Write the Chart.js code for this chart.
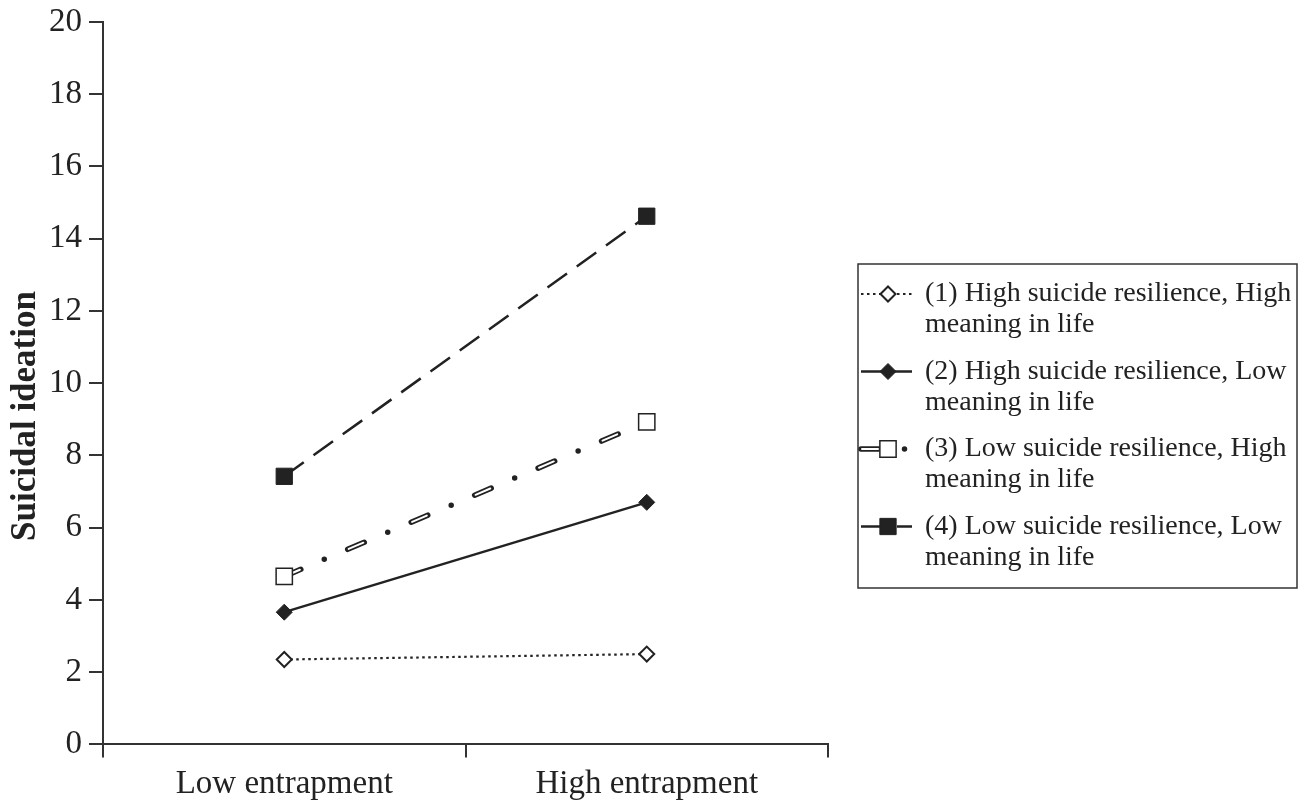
<!DOCTYPE html>
<html>
<head>
<meta charset="utf-8">
<script src="https://cdn.jsdelivr.net/npm/chart.js@4/dist/chart.umd.min.js"></script>
<style>
	html, body { margin: 0; padding: 0; background: #fff; }
	#wrap { position: relative; width: 1307px; height: 804px; }
</style>
</head>
<body>
<div id="wrap"><canvas id="chart-ideation"></canvas></div>
<script>
// values
const CATEGORIES = ["Low entrapment", "High entrapment"];
const SERIES_LABELS = [
	["(1) High suicide resilience, High", "meaning in life"],
	["(2) High suicide resilience, Low", "meaning in life"],
	["(3) Low suicide resilience, High", "meaning in life"],
	["(4) Low suicide resilience, Low", "meaning in life"],
];
const HIGH_RES_HIGH_MEAN = [2.35, 2.5];
const HIGH_RES_LOW_MEAN = [3.66, 6.7];
const LOW_RES_HIGH_MEAN = [4.65, 8.93];
const LOW_RES_LOW_MEAN = [7.42, 14.62];
const Y_MIN = 0;
const Y_MAX = 20;
const Y_STEP = 2;
const Y_TITLE = "Suicidal ideation";

const INK = "#222";
const AXIS = "#333";
const SERIF = "'Liberation Serif', 'Times New Roman', serif";

// y axis title sits a little below the axis middle in the original, so it is drawn by hand
const yTitle = {
	id: "yTitle",
	afterDraw(chart, args, opts) {
		const ctx = chart.ctx;
		ctx.save();
		ctx.translate(opts.x, opts.y);
		ctx.rotate(-Math.PI / 2);
		ctx.font = "bold " + opts.fontSize + "px " + SERIF;
		ctx.fillStyle = INK;
		ctx.textAlign = "center";
		ctx.textBaseline = "alphabetic";
		ctx.fillText(Y_TITLE, 0, 0);
		ctx.restore();
	},
};

// draws the boxed legend to the right of the plot, using each dataset's own style
const boxLegend = {
	id: "boxLegend",
	afterDraw(chart, args, opts) {
		const ctx = chart.ctx;
		const box = opts.box;
		ctx.save();
		ctx.strokeStyle = AXIS;
		ctx.lineWidth = 1.5;
		ctx.strokeRect(box.x, box.y, box.w, box.h);

		ctx.font = opts.fontSize + "px " + SERIF;
		ctx.fillStyle = INK;
		ctx.textBaseline = "middle";
		ctx.textAlign = "left";

		opts.items.forEach((item, i) => {
			const y = box.y + opts.firstRow + i * opts.rowGap;
			item.datasets.forEach((idx) => {
				const ds = chart.data.datasets[idx];
				ctx.save();
				ctx.strokeStyle = ds.borderColor;
				ctx.lineWidth = ds.borderWidth;
				ctx.lineCap = ds.borderCapStyle || "butt";
				ctx.setLineDash(ds.borderDash || []);
				ctx.lineDashOffset = ds.borderDashOffset || 0;
				ctx.beginPath();
				ctx.moveTo(box.x + 3, y);
				ctx.lineTo(box.x + opts.sampleWidth, y);
				ctx.stroke();
				ctx.restore();
			});
			const pds = chart.data.datasets[item.marker];
			ctx.save();
			ctx.fillStyle = pds.pointBackgroundColor;
			ctx.strokeStyle = pds.pointBorderColor;
			ctx.lineWidth = pds.pointBorderWidth;
			ctx.setLineDash([]);
			Chart.helpers.drawPoint(ctx, {
				pointStyle: pds.pointStyle,
				radius: pds.pointRadius,
				rotation: 0,
				borderWidth: pds.pointBorderWidth,
			}, box.x + opts.markerX, y);
			ctx.restore();

			SERIES_LABELS[i].forEach((line, j) => {
				ctx.fillText(line, box.x + opts.textX, y + j * opts.lineHeight);
			});
		});
		ctx.restore();
	},
};

const CHART_DATA = {
	labels: CATEGORIES,
	datasets: [
		{
			// inner white stroke that makes series 3 dashes look hollow, carries its markers
			label: "s3-inner",
			data: LOW_RES_HIGH_MEAN,
			borderColor: "#fff",
			borderWidth: 2,
			borderCapStyle: "round",
			borderDash: [16, 53],
			borderDashOffset: 68,
			pointStyle: "rect",
			pointRadius: 11.5,
			pointBackgroundColor: "#fff",
			pointBorderColor: INK,
			pointBorderWidth: 1.5,
			order: 0,
		},
		{
			label: SERIES_LABELS[0].join(" "),
			data: HIGH_RES_HIGH_MEAN,
			borderColor: INK,
			borderWidth: 2.2,
			borderDash: [2.5, 3.5],
			pointStyle: "rectRot",
			pointRadius: 7.5,
			pointBackgroundColor: "#fff",
			pointBorderColor: INK,
			pointBorderWidth: 2,
			order: 1,
		},
		{
			label: SERIES_LABELS[1].join(" "),
			data: HIGH_RES_LOW_MEAN,
			borderColor: INK,
			borderWidth: 2.5,
			pointStyle: "rectRot",
			pointRadius: 8,
			pointBackgroundColor: INK,
			pointBorderColor: INK,
			pointBorderWidth: 1,
			order: 1,
		},
		{
			label: SERIES_LABELS[2].join(" "),
			data: LOW_RES_HIGH_MEAN,
			borderColor: INK,
			borderWidth: 5.5,
			borderCapStyle: "round",
			borderDash: [18, 25.5, 0, 25.5],
			pointRadius: 0,
			order: 2,
		},
		{
			label: SERIES_LABELS[3].join(" "),
			data: LOW_RES_LOW_MEAN,
			borderColor: INK,
			borderWidth: 2.5,
			borderDash: [24, 12],
			pointStyle: "rect",
			pointRadius: 11.5,
			pointBackgroundColor: INK,
			pointBorderColor: INK,
			pointBorderWidth: 1,
			order: 1,
		},
	],
};

const CHART_CONFIG = {
	type: "line",
	data: CHART_DATA,
	plugins: [boxLegend, yTitle],
	options: {
		responsive: true,
		maintainAspectRatio: false,
		animation: false,
		layout: {
			padding: { left: 42, right: 479, top: 0, bottom: -7 },
		},
		plugins: {
			legend: { display: false },
			tooltip: { enabled: false },
			title: { display: false },
			yTitle: { x: 35, y: 416, fontSize: 35 },
			boxLegend: {
				box: { x: 858, y: 264, w: 439, h: 324 },
				items: [
					{ datasets: [1], marker: 1 },
					{ datasets: [2], marker: 2 },
					{ datasets: [3, 0], marker: 0 },
					{ datasets: [4], marker: 4 },
				],
				firstRow: 30,
				rowGap: 77.5,
				lineHeight: 31,
				sampleWidth: 54,
				markerX: 30,
				textX: 67,
				fontSize: 28,
			},
		},
		scales: {
			x: {
				type: "category",
				offset: true,
				border: { display: true, color: AXIS, width: 2 },
				grid: {
					offset: true,
					drawOnChartArea: false,
					drawTicks: true,
					tickLength: 13,
					color: AXIS,
					lineWidth: 2,
				},
				ticks: {
					color: INK,
					padding: 7,
					font: { family: SERIF, size: 33 },
				},
			},
			y: {
				min: Y_MIN,
				max: Y_MAX,
				border: { display: true, color: AXIS, width: 2 },
				grid: {
					drawOnChartArea: false,
					drawTicks: true,
					tickLength: 14,
					color: AXIS,
					lineWidth: 2,
				},
				ticks: {
					stepSize: Y_STEP,
					color: INK,
					padding: 7,
					font: { family: SERIF, size: 33, lineHeight: 0.9 },
				},
			},
		},
	},
};

new Chart(document.getElementById("chart-ideation"), CHART_CONFIG);
</script>
</body>
</html>
